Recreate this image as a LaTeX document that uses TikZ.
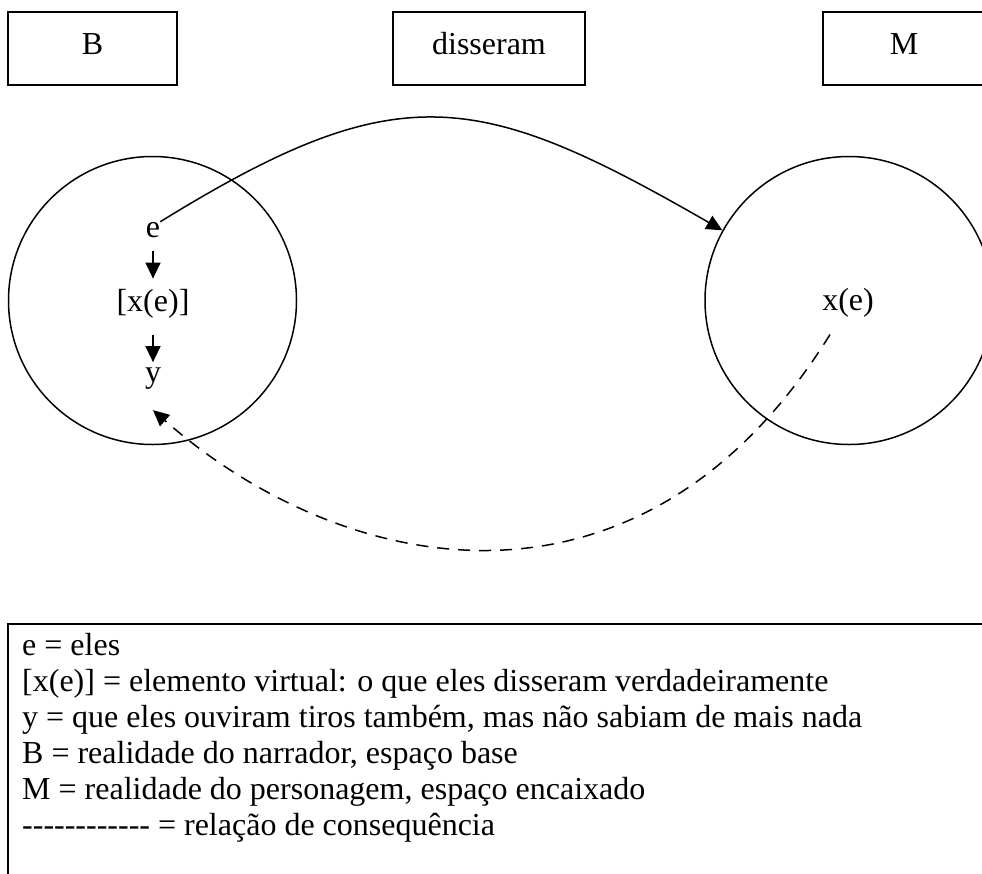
\documentclass[tikz,border=0pt]{standalone}
\usepackage{fontspec}
\setmainfont{Liberation Serif}
\usetikzlibrary{arrows.meta,calc}
\begin{document}
\begin{tikzpicture}[x=1pt,y=-1pt,
  txt/.style={font=\fontsize{32}{36}\selectfont, inner sep=0pt},
  topbox/.style={draw, line width=1.5pt, txt, minimum height=73pt, text height=21pt, text depth=10pt},
  space/.style={draw, circle, line width=1.5pt, minimum size=288pt, inner sep=0pt},
  conn/.style={line width=1.5pt, -{Triangle[length=16pt,width=15pt]}},
  legline/.style={txt, anchor=base west}
]
\useasboundingbox (0,0) rectangle (982,873);
\clip (0,0) rectangle (982,873);

% top boxes
\node[topbox, minimum width=169pt] (bB) at (92.5,48.5) {B};
\node[topbox, minimum width=192pt] (bD) at (489,48.5) {disseram};
\node[topbox, minimum width=162pt] (bM) at (904,48.5) {M};

% mental spaces
\node[space] (cB) at (152.5,300.5) {};
\node[space] (cM) at (849,300.5) {};

% labels in spaces
\node[txt, anchor=base] (e)   at (153,237) {e};
\node[txt, anchor=base] (xe1) at (153,311) {[x(e)]};
\node[txt, anchor=base] (y)   at (153,382) {y};
\node[txt, anchor=base] (xe2) at (848,310) {x(e)};

% arrows inside B
\draw[conn, shorten <=13pt, shorten >=10pt] (e.south) -- (xe1.north);
\draw[conn, shorten <=17pt, shorten >=5pt] (xe1.south) -- (y.north);

% solid arrow from e to M
\draw[conn] (e.north east) .. controls (398,75) and (477,89) .. (cM.151);

% dashed consequence arrow
\coordinate (dstart) at ($(xe2.south)+(-18,17.5)$);
\coordinate (dend) at ($(y.south)+(0,21)$);
\draw[conn, dash pattern=on 12pt off 9pt] (dstart) .. controls (642,637) and (345.5,579) .. (dend);

% legend
\draw[line width=1.5pt] (8,1000) -- (8,624) -- (1000,624);
\node[legline] (l1) at (22,655) {e = eles};
\node[legline] (l2) at (22,691) {[x(e)] = elemento virtual: o que eles disseram verdadeiramente};
\node[legline] (l3) at (22,727) {y = que eles ouviram tiros também, mas não sabiam de mais nada};
\node[legline] (l4) at (22,763) {B = realidade do narrador, espaço base};
\node[legline] (l5) at (22,799) {M = realidade do personagem, espaço encaixado};
\node[legline] (l6) at (22,835) {\mbox{-}\mbox{-}\mbox{-}\mbox{-}\mbox{-}\mbox{-}\mbox{-}\mbox{-}\mbox{-}\mbox{-}\mbox{-}\mbox{-} = relação de consequência};
\end{tikzpicture}
\end{document}
